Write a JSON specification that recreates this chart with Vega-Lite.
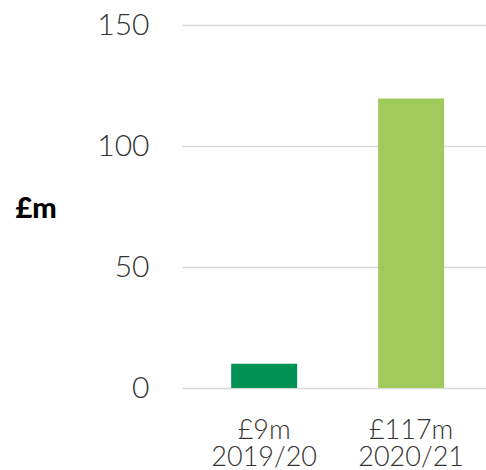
{
  "$schema": "https://vega.github.io/schema/vega-lite/v6.json",
  "width": 304,
  "height": 363,
  "autosize": "none",
  "padding": {"left": 182, "top": 25, "right": 0, "bottom": 82},
  "background": "white",
  "data": {
    "values": [
      {"label": "£9m\n2019/20", "value": 10, "year": "2019/20"},
      {"label": "£117m\n2020/21", "value": 119.6, "year": "2020/21"}
    ]
  },
  "mark": {"type": "bar"},
  "encoding": {
    "x": {
      "field": "label",
      "type": "nominal",
      "sort": null,
      "scale": {"paddingInner": 0.551, "paddingOuter": 0.31, "align": 0.54},
      "axis": {
        "title": null,
        "domain": false,
        "ticks": false,
        "labelAngle": 0,
        "labelExpr": "split(datum.value, '\\n')",
        "labelFont": "Lato",
        "labelFontWeight": 300,
        "labelFontSize": 27,
        "labelColor": "#333333",
        "labelPadding": 29,
        "labelLineHeight": 27,
        "labelBaseline": "top"
      }
    },
    "y": {
      "field": "value",
      "type": "quantitative",
      "scale": {"domain": [0, 150], "nice": false},
      "axis": {
        "values": [0, 50, 100, 150],
        "title": "£m",
        "titleAngle": 0,
        "titleAlign": "left",
        "titleBaseline": "middle",
        "titleX": -167,
        "titleY": 183,
        "titleFont": "Lato",
        "titleFontWeight": 900,
        "titleFontSize": 29,
        "titleColor": "#000000",
        "domain": false,
        "ticks": false,
        "grid": true,
        "gridColor": "#d9d9d9",
        "gridWidth": 1.5,
        "labelFont": "Lato",
        "labelFontWeight": 300,
        "labelFontSize": 30,
        "labelColor": "#333333",
        "labelPadding": 33
      }
    },
    "color": {
      "field": "year",
      "type": "nominal",
      "scale": {"domain": ["2019/20", "2020/21"], "range": ["#009155", "#A0CA5C"]},
      "legend": null
    }
  },
  "config": {"view": {"stroke": null}}
}
